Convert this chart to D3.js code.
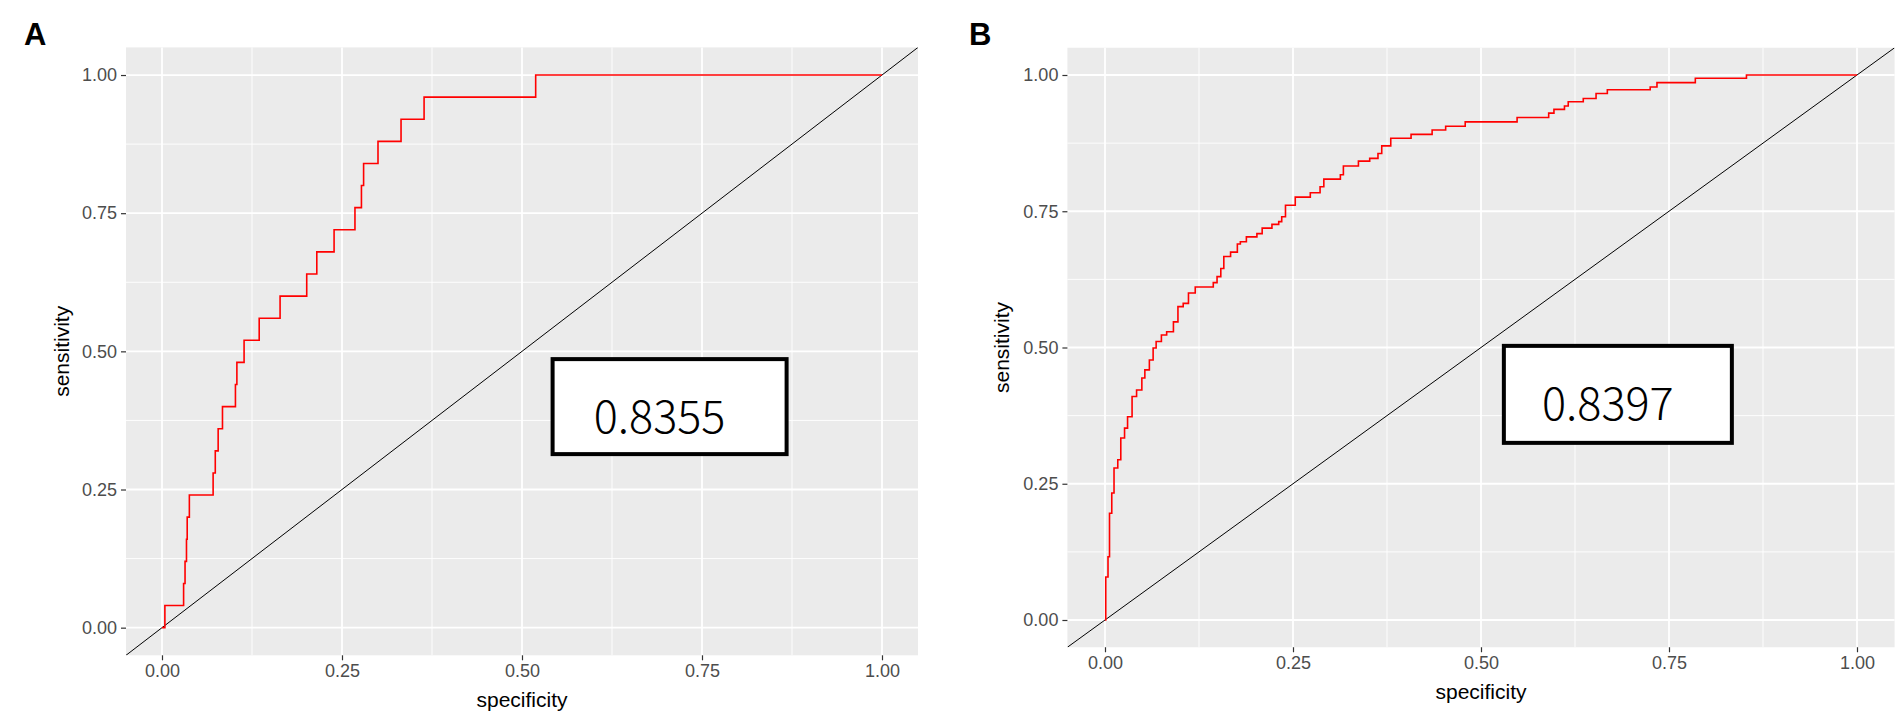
<!DOCTYPE html>
<html>
<head>
  <meta charset="utf-8">
  <style>
    body { margin: 0; background: #fff; }
    text { font-family: "Liberation Sans", Arial, sans-serif; }
  </style>
</head>
<body>
<svg id="roc" width="1904" height="721"></svg>
<script src="https://d3js.org/d3.v7.min.js"></script>
<script>
// ROC corner points (specificity where the curve rises, sensitivity reached)
var specA = [0, 0.004, 0.030, 0.032, 0.034, 0.035, 0.038, 0.071, 0.074, 0.078, 0.084, 0.102, 0.104, 0.114,
             0.135, 0.164, 0.201, 0.215, 0.239, 0.268, 0.277, 0.280, 0.300, 0.332, 0.364, 0.519, 1.000];
var sensA = [0, 0.04, 0.08, 0.12, 0.16, 0.20, 0.24, 0.28, 0.32, 0.36, 0.40, 0.44, 0.48, 0.52,
             0.56, 0.60, 0.64, 0.68, 0.72, 0.76, 0.80, 0.84, 0.88, 0.92, 0.96, 1.00, 1.00];

var specB = [0, 0.001, 0.004, 0.006, 0.009, 0.012, 0.017, 0.021, 0.026, 0.030, 0.036, 0.042, 0.049, 0.053,
             0.059, 0.064, 0.068, 0.075, 0.082, 0.091, 0.097, 0.104, 0.111, 0.120, 0.144, 0.149, 0.154, 0.158,
             0.167, 0.176, 0.180, 0.188, 0.202, 0.209, 0.222, 0.231, 0.235, 0.240, 0.253, 0.273, 0.286, 0.291,
             0.313, 0.317, 0.337, 0.352, 0.363, 0.368, 0.380, 0.407, 0.435, 0.453, 0.479, 0.548, 0.590, 0.597,
             0.611, 0.616, 0.636, 0.653, 0.668, 0.725, 0.734, 0.785, 0.853, 1.000];
var sensB = [0, 0.079, 0.116, 0.196, 0.233, 0.279, 0.294, 0.334, 0.352, 0.373, 0.410, 0.422, 0.444, 0.459,
             0.477, 0.499, 0.511, 0.523, 0.529, 0.547, 0.575, 0.581, 0.600, 0.611, 0.619, 0.630, 0.645, 0.667,
             0.675, 0.690, 0.694, 0.703, 0.709, 0.719, 0.726, 0.731, 0.740, 0.761, 0.776, 0.784, 0.795, 0.809,
             0.817, 0.833, 0.842, 0.847, 0.856, 0.870, 0.884, 0.891, 0.899, 0.906, 0.914, 0.922, 0.930, 0.937,
             0.943, 0.951, 0.957, 0.966, 0.973, 0.978, 0.986, 0.994, 1.000, 1.000];

var majorTicks = [0, 0.25, 0.5, 0.75, 1];
var minorTicks = [0.125, 0.375, 0.625, 0.875];
var panelTags = ["A", "B"];
var aucLabels = ["0.8355", "0.8397"];
var aucPos = [[0.705, 0.40], [0.682, 0.414]];
var xTitle = "specificity", yTitle = "sensitivity";

// panel boxes in page pixels
var panels = [
  {left: 126, right: 918, top: 47.4, bottom: 655.3, tagX: 24, titleX: 69, boxW: 234, boxH: 95},
  {left: 1067.4, right: 1894.6, top: 47.75, bottom: 647.25, tagX: 969, titleX: 1009, boxW: 228, boxH: 97}
];
var series = [
  {spec: specA, sens: sensA},
  {spec: specB, sens: sensB}
];

var svg = d3.select("#roc");

panels.forEach(function(p, i) {
  var x = d3.scaleLinear().domain([-0.05, 1.05]).range([p.left, p.right]);
  var y = d3.scaleLinear().domain([-0.05, 1.05]).range([p.bottom, p.top]);
  var g = svg.append("g");

  var clipId = "clip" + i;
  g.append("clipPath").attr("id", clipId)
    .append("rect")
      .attr("x", p.left).attr("y", p.top)
      .attr("width", p.right - p.left).attr("height", p.bottom - p.top);

  g.append("rect")
    .attr("x", p.left).attr("y", p.top)
    .attr("width", p.right - p.left).attr("height", p.bottom - p.top)
    .style("fill", "#ebebeb");

  // grid
  g.selectAll(".vminor").data(minorTicks).enter().append("line")
    .attr("x1", function(d) { return x(d); }).attr("x2", function(d) { return x(d); })
    .attr("y1", p.top).attr("y2", p.bottom)
    .style("stroke", "#fff").style("stroke-width", 0.9);
  g.selectAll(".hminor").data(minorTicks).enter().append("line")
    .attr("y1", function(d) { return y(d); }).attr("y2", function(d) { return y(d); })
    .attr("x1", p.left).attr("x2", p.right)
    .style("stroke", "#fff").style("stroke-width", 0.9);
  g.selectAll(".vmajor").data(majorTicks).enter().append("line")
    .attr("x1", function(d) { return x(d); }).attr("x2", function(d) { return x(d); })
    .attr("y1", p.top).attr("y2", p.bottom)
    .style("stroke", "#fff").style("stroke-width", 1.8);
  g.selectAll(".hmajor").data(majorTicks).enter().append("line")
    .attr("y1", function(d) { return y(d); }).attr("y2", function(d) { return y(d); })
    .attr("x1", p.left).attr("x2", p.right)
    .style("stroke", "#fff").style("stroke-width", 1.8);

  // axes
  var xAxis = d3.axisBottom(x).tickValues(majorTicks).tickSize(5).tickPadding(4)
    .tickFormat(d3.format(".2f"));
  var yAxis = d3.axisLeft(y).tickValues(majorTicks).tickSize(5).tickPadding(4)
    .tickFormat(d3.format(".2f"));

  var gx = g.append("g").attr("transform", "translate(0," + p.bottom + ")").call(xAxis);
  var gy = g.append("g").attr("transform", "translate(" + p.left + ",0)").call(yAxis);
  [gx, gy].forEach(function(a) {
    a.select(".domain").remove();
    a.selectAll(".tick line").style("stroke", "#333").style("stroke-width", 1.2);
    a.selectAll(".tick text").style("fill", "#4d4d4d").style("font-size", "18px")
      .style("font-family", "Liberation Sans, Arial, sans-serif");
  });

  // diagonal reference
  g.append("line")
    .attr("clip-path", "url(#" + clipId + ")")
    .attr("x1", x(-0.05)).attr("y1", y(-0.05))
    .attr("x2", x(1.05)).attr("y2", y(1.05))
    .style("stroke", "#000").style("stroke-width", 1);

  // ROC curve
  var pts = d3.range(series[i].spec.length).map(function(k) {
    return [series[i].spec[k], series[i].sens[k]];
  });
  var line = d3.line()
    .x(function(d) { return x(d[0]); })
    .y(function(d) { return y(d[1]); })
    .curve(d3.curveStepAfter);
  g.append("path")
    .datum(pts)
    .attr("d", line)
    .style("fill", "none")
    .style("stroke", "#ff0000")
    .style("stroke-width", 1.6);

  // AUC label box
  var cx = x(aucPos[i][0]), cy = y(aucPos[i][1]);
  g.append("rect")
    .attr("x", cx - p.boxW / 2).attr("y", cy - p.boxH / 2)
    .attr("width", p.boxW).attr("height", p.boxH)
    .style("fill", "#fff").style("stroke", "#000").style("stroke-width", 4);
  g.append("text")
    .attr("x", cx - 10).attr("y", cy + 26)
    .style("text-anchor", "middle")
    .style("font-family", "'Noto Sans CJK SC', 'Noto Sans', sans-serif")
    .style("font-weight", 300)
    .style("font-size", "45px")
    .style("fill", "#000")
    .text(aucLabels[i]);

  // titles
  g.append("text")
    .attr("x", (p.left + p.right) / 2).attr("y", p.bottom + 52)
    .style("text-anchor", "middle").style("font-size", "21px").style("fill", "#000")
    .text(xTitle);
  g.append("text")
    .attr("transform", "translate(" + p.titleX + "," + ((p.top + p.bottom) / 2) + ") rotate(-90)")
    .style("text-anchor", "middle").style("font-size", "21px").style("fill", "#000")
    .text(yTitle);

  g.append("text")
    .attr("x", p.tagX).attr("y", 45)
    .style("font-size", "31px").style("font-weight", "bold").style("fill", "#000")
    .text(panelTags[i]);
});
</script>
</body>
</html>
